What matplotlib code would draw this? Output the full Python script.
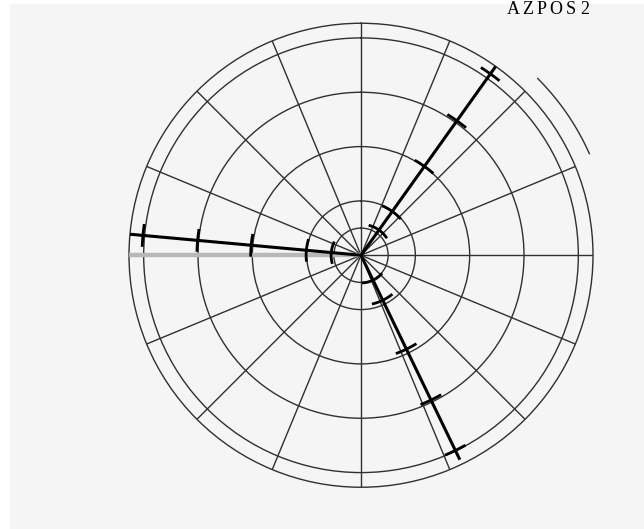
import numpy as np
import matplotlib
matplotlib.use("Agg")
import matplotlib.pyplot as plt
from matplotlib.patches import Rectangle

# ---- data ----
title_text = "AZPOS2"
ring_ranges = [5, 10, 20, 30, 40]
r_max = 42.7
spoke_step_deg = 22.5
beam_azimuths = [35.5, 275.2, 154.2]          # degrees from north, clockwise
beam_end_ranges = [42.7, 42.7, 41.8]
beam_tick_ranges = [
    [5.7, 9.9, 20.1, 30.4, 41.0],
    [5.5, 10.1, 20.3, 30.2, 40.3],
    [5.1, 9.2, 19.2, 29.6, 39.9],
]
reference_azimuth = 270.0
sector_range = 46.0
sector_start_deg = 45.0
sector_end_deg = 66.0

W, H = 644, 529
fig = plt.figure(figsize=(W / 100, H / 100), dpi=100, facecolor="white")
bg = fig.add_axes([10 / W, 0, 1 - 10 / W, 1 - 4 / H], zorder=-10)
bg.set_facecolor("#f5f5f5")
bg.set_axis_off()
bg.add_patch(Rectangle((0, 0), 1, 1, transform=bg.transAxes,
                       facecolor="#f5f5f5", edgecolor="none"))

cx, cy, rad = 361, 255.25, 232
ax = fig.add_axes([(cx - rad) / W, (H - cy - rad) / H, 2 * rad / W, 2 * rad / H],
                  projection="polar", zorder=1)
ax.set_facecolor("none")
ax.set_theta_zero_location("N")
ax.set_theta_direction(-1)
ax.set_ylim(0, r_max)
ax.set_rgrids(ring_ranges, labels=[])
ax.set_thetagrids(np.arange(0, 360, spoke_step_deg), labels=[])
ax.tick_params(length=0)
ax.grid(True, color="#303030", lw=1.0)
ax.spines["polar"].set_color("#303030")
ax.spines["polar"].set_linewidth(1.0)

# reference line (gray)
ra = np.deg2rad(reference_azimuth)
ax.plot([ra, ra], [0, r_max], color="#b8b8b8", lw=3.2, solid_capstyle="butt", zorder=3)

# beams with crossbars
half_len = 1.85
for az, rend, ticks in zip(beam_azimuths, beam_end_ranges, beam_tick_ranges):
    a = np.deg2rad(az)
    ax.plot([a, a], [0, rend], color="black", lw=2.2, solid_capstyle="butt", zorder=4)
    for r in ticks:
        da = half_len / r
        th = np.linspace(a - da, a + da, 25)
        ax.plot(th, np.full_like(th, r), color="black", lw=2.0, zorder=4)

# outer sector arc
th = np.deg2rad(np.linspace(sector_start_deg, sector_end_deg, 60))
ax.plot(th, np.full_like(th, sector_range), color="#303030", lw=1.0, clip_on=False)

# title, letter-spaced
x0, pitch = 513, 14.4
for i, ch in enumerate(title_text):
    fig.text((x0 + i * pitch) / W, (H - 14.5) / H, ch, ha="center", va="baseline",
             fontsize=13, family="Liberation Serif", color="black")

fig.savefig("out.png", dpi=100, facecolor="white")
